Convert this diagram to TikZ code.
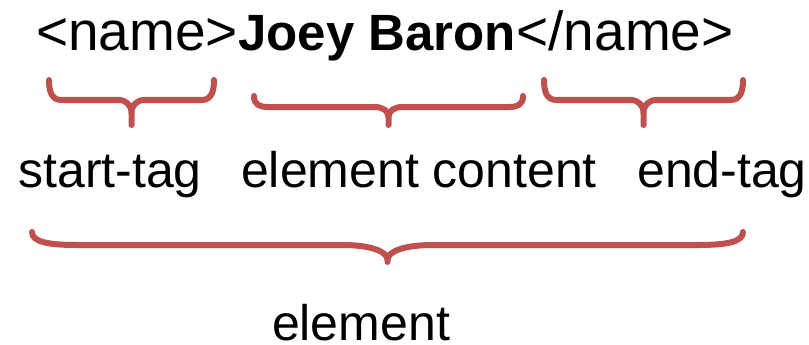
\documentclass[tikz,border=0pt]{standalone}
\usepackage{fontspec}
\setmainfont{Liberation Sans}
\usetikzlibrary{positioning,calc}
\definecolor{bracered}{HTML}{C0504D}
\tikzset{
    xmltag/.style={
      inner sep=0pt,
           font=\fontsize{55}{60}\selectfont,
           text height=40pt,
           text depth=12pt,
           },
}
\tikzset{
    desc/.style={
      inner sep=0pt,
           anchor=base,
           font=\fontsize{50}{60}\selectfont,
           },
}
% #1 corner width, #2 drop to the bar, #3 drop of the cusp, #4 drop to the tip
\tikzset{
    curly/.style n args={4}{
      draw=bracered, line width=6pt,
           line cap=round, line join=round,
           to path={
             (\tikztostart) .. controls +(0,0.8*#2) and +(-0.6*#1,0) .. ++(#1,#2)
             -- ($(\tikztostart)!0.5!(\tikztotarget)+(-#1,#2)$)
             .. controls +(0.6*#1,0) and +(0,-0.6*#3) .. ($(\tikztostart)!0.5!(\tikztotarget)+(0,#2+#3)$)
             -- ($(\tikztostart)!0.5!(\tikztotarget)+(0,#4)$)
             ($(\tikztostart)!0.5!(\tikztotarget)+(0,#2+#3)$)
             .. controls +(0,-0.6*#3) and +(-0.6*#1,0) .. ($(\tikztostart)!0.5!(\tikztotarget)+(#1,#2)$)
             -- ($(\tikztotarget)+(-#1,#2)$)
             .. controls +(0.6*#1,0) and +(0,0.8*#2) .. (\tikztotarget)
           },
           },
}

\begin{document}
\begin{tikzpicture}[x=1pt,y=-1pt]
\useasboundingbox (0,0) rectangle (809,345);

\node[xmltag,anchor=base west](so) at (36,51){<name>};
\node[xmltag,right = 0pt of so,font=\fontsize{51}{60}\selectfont\bfseries](ct){Joey Baron};
\node[xmltag,right = 0pt of ct](eo){</name>};

\coordinate (b1l) at (49,80);  \coordinate (b1r) at (214,80);
\coordinate (b2l) at (254,96); \coordinate (b2r) at (523,96);
\coordinate (b3l) at (544,80); \coordinate (b3r) at (743,80);
\coordinate (bbl) at (32,232); \coordinate (bbr) at (743,232);

\draw[curly={13}{20}{13}{45}] (b1l) to (b1r);
\draw[curly={14}{11}{10}{29}] (b2l) to (b2r);
\draw[curly={13}{20}{13}{45}] (b3l) to (b3r);
\draw[curly={45}{13}{15}{30}] (bbl) to (bbr);

\node[desc](st) at (110,187){start-tag};
\node[desc](ec) at (419,187){element content};
\node[desc](et) at (722,187){end-tag};
\node[desc](el) at (361,340){element};

\end{tikzpicture}
\end{document}
